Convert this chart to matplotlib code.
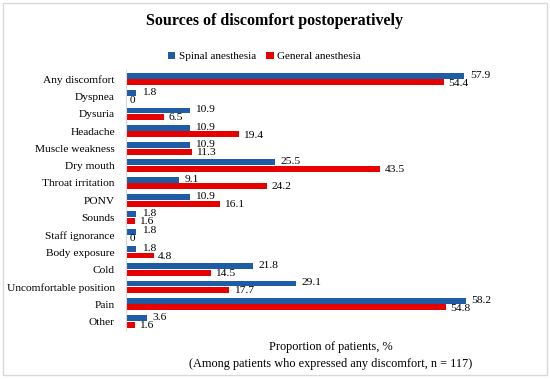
import matplotlib.pyplot as plt
import numpy as np
from matplotlib.patches import Rectangle

# data
categorias = ["Any discomfort", "Dyspnea", "Dysuria", "Headache", "Muscle weakness",
              "Dry mouth", "Throat irritation", "PONV", "Sounds", "Staff ignorance",
              "Body exposure", "Cold", "Uncomfortable position", "Pain", "Other"]
spinal = [57.9, 1.8, 10.9, 10.9, 10.9, 25.5, 9.1, 10.9, 1.8, 1.8, 1.8, 21.8, 29.1, 58.2, 3.6]
general = [54.4, 0, 6.5, 19.4, 11.3, 43.5, 24.2, 16.1, 1.6, 0, 4.8, 14.5, 17.7, 54.8, 1.6]

azul = "#1F5CA6"
rojo = "#E60000"

plt.rcParams["font.family"] = ["Liberation Serif", "DejaVu Serif"]

fig = plt.figure(figsize=(5.5, 3.79), dpi=100)
ax = fig.add_axes([0.229, 0.129, 0.744, 0.685])

y = np.arange(len(categorias))
h = 0.34
d = 0.19
ax.barh(y - d, spinal, height=h, color=azul, label="Spinal anesthesia")
ax.barh(y + d, general, height=h, color=rojo, label="General anesthesia")

# etiquetas de valor
for i in range(len(categorias)):
    ax.annotate(f"{spinal[i]:g}", (spinal[i], y[i] - d), xytext=(4, 0.5),
                textcoords="offset points", va="center", ha="left", fontsize=8.2)
    ax.annotate(f"{general[i]:g}", (general[i], y[i] + d), xytext=(3, -0.5),
                textcoords="offset points", va="center", ha="left", fontsize=8.2)

ax.set_yticks(y)
ax.set_yticklabels(categorias, fontsize=8.2)
ax.set_ylim(len(categorias) - 0.5, -0.5)
ax.set_xlim(0, 70)
ax.set_xticks([])
ax.tick_params(axis="y", length=0, pad=8)
for s in ["top", "right", "bottom"]:
    ax.spines[s].set_visible(False)
ax.spines["left"].set_color("#D9D9D9")

ax.set_xlabel("Proportion of patients, %\n(Among patients who expressed any discomfort, n = 117)",
              fontsize=8.8, labelpad=8, linespacing=1.5)

fig.suptitle("Sources of discomfort postoperatively", fontsize=11.5, fontweight="bold", y=0.965)
fig.legend(loc="upper center", bbox_to_anchor=(0.48, 0.89), ncol=2, frameon=False,
           fontsize=8, handlelength=0.7, handleheight=0.7, handletextpad=0.3,
           columnspacing=0.9)

fig.patches.append(Rectangle((0.006, 0.01), 0.988, 0.982, transform=fig.transFigure,
                             fill=False, edgecolor="#D9D9D9", linewidth=1))

plt.savefig("out.png", dpi=100)
